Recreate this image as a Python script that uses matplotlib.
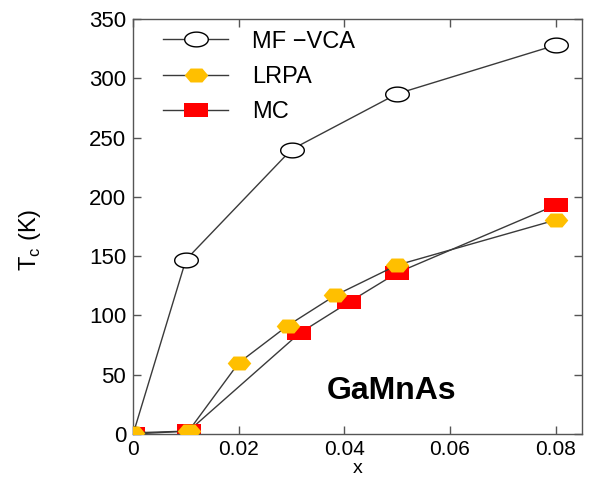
import matplotlib
matplotlib.use("Agg")
import matplotlib.pyplot as plt
import numpy as np
from matplotlib.path import Path

plt.rcParams['font.family'] = ['Liberation Sans', 'DejaVu Sans']
plt.rcParams['mathtext.fontset'] = 'custom'
plt.rcParams['mathtext.rm'] = 'Liberation Sans'

# Curie temperature vs Mn concentration
x_mf = [0.0, 0.01, 0.03, 0.05, 0.08]
tc_mf = [0, 147, 240, 287, 328]

x_lrpa = [0.0, 0.0105, 0.02, 0.0293, 0.0383, 0.05, 0.08]
tc_lrpa = [1, 2.5, 60, 91.5, 117, 142.5, 180.5]

x_mc = [0.0, 0.0105, 0.0315, 0.0408, 0.05, 0.08]
tc_mc = [0, 2.5, 85, 111, 136, 193]

labels = ['MF \u2212VCA', 'LRPA', 'MC']
xticks = [0, 0.02, 0.04, 0.06, 0.08]
xticklabels = ['0', '0.02', '0.04', '0.06', '0.08']
yticks = [0, 50, 100, 150, 200, 250, 300, 350]

# wide markers (ellipse, flat hexagon, rectangle)
t = np.linspace(0, 2 * np.pi, 60)
ellipse = Path(np.column_stack([1.6 * np.cos(t), np.sin(t)]), closed=True)
ang = np.radians(np.arange(0, 360, 60))
hex_verts = np.column_stack([1.465 * np.cos(ang), np.sin(ang)])
hexagon = Path(np.vstack([hex_verts, hex_verts[:1]]), closed=True)
rect = Path([(-1.75, -1), (1.75, -1), (1.75, 1), (-1.75, 1), (-1.75, -1)], closed=True)

fig = plt.figure(figsize=(5.89, 4.78), dpi=100)
ax = fig.add_axes([0.226, 0.092, 0.762, 0.868])

line_kw = dict(color='#3a3a3a', lw=1.0)
ax.plot(x_mf, tc_mf, marker=ellipse, ms=17, mfc='white', mec='black', mew=1.0,
        label=labels[0], **line_kw)
ax.plot(x_mc, tc_mc, marker=rect, ms=17, mfc='#ff0000', mec='#ff0000', mew=0,
        label=labels[2], zorder=2, **line_kw)
ax.plot(x_lrpa, tc_lrpa, marker=hexagon, ms=17, mfc='#ffbf00', mec='#ffbf00', mew=0,
        label=labels[1], zorder=3, **line_kw)

ax.set_xlim(0, 0.085)
ax.set_ylim(0, 350)
ax.set_xticks(xticks)
ax.set_xticklabels(xticklabels)
ax.set_yticks(yticks)
ax.tick_params(direction='in', length=6, width=1, top=True, right=True,
               labelsize=16, colors='#555555', labelcolor='black')
ax.tick_params(axis='x', pad=4, labelsize=15)
ax.tick_params(axis='y', pad=5)
for sp in ax.spines.values():
    sp.set_color('#555555')
    sp.set_linewidth(1.0)

ax.set_xlabel('x', fontsize=14, va='bottom')
ax.xaxis.set_label_coords(0.5, -0.1035)
ax.set_ylabel(r'T$_{\mathrm{c}}$ (K)', fontsize=17, va='center')
ax.yaxis.set_label_coords(-0.229, 0.467)

handles, labs = ax.get_legend_handles_labels()
order = [0, 2, 1]
ax.legend([handles[i] for i in order], [labs[i] for i in order],
          loc='upper left', frameon=False, fontsize=17, handlelength=2.75,
          handletextpad=1.0, labelspacing=0.56, borderaxespad=0.0,
          bbox_to_anchor=(0.046, 0.995))

ax.text(0.049, 36, 'GaMnAs', fontsize=23, fontweight='bold', ha='center', va='center')

fig.savefig('out.png', dpi=100)
